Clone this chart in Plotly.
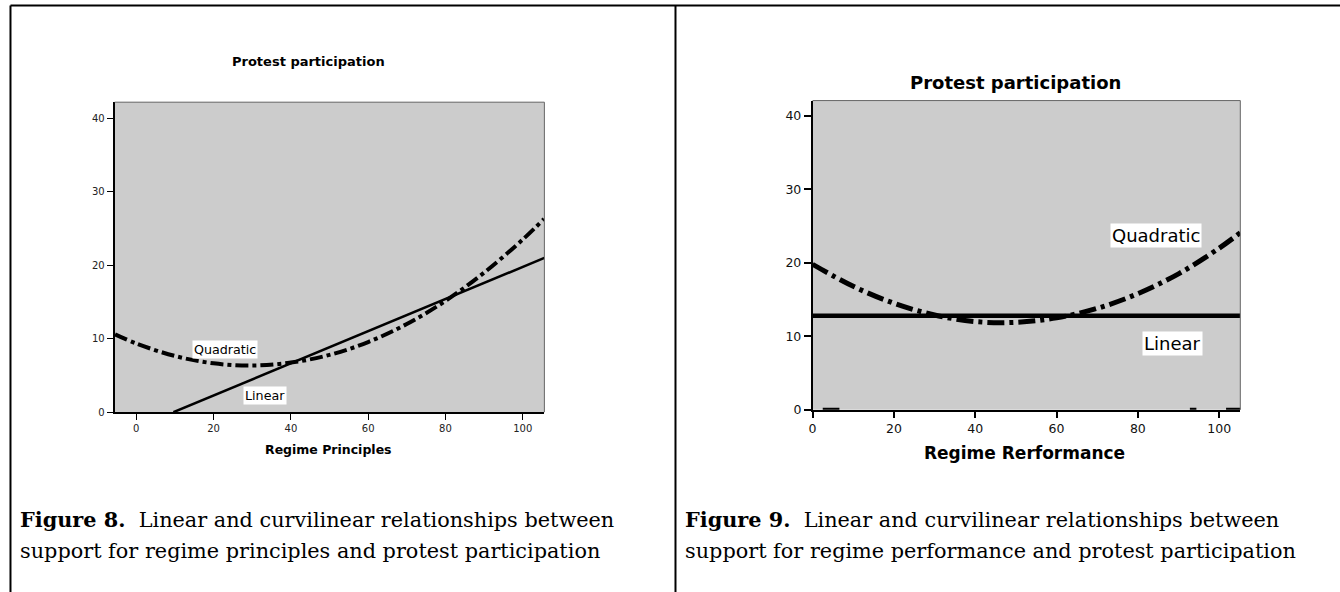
import plotly.graph_objects as go

W = 1340
H = 600   # rendered canvas proves ~600 tall; positions below are proportional to the 592-px reference
REF_H = 592

# ---------------- data ----------------
# Figure 8: Regime Principles
p_quad_x = [-5.5, 0, 10, 20, 30, 40, 50, 60, 70, 80, 90, 100, 105.5]
p_quad_y = [10.6, 9.35, 7.65, 6.65, 6.35, 6.75, 7.8, 9.55, 12.0, 15.15, 19.0, 23.5, 26.3]
p_lin_x = [9.6, 105.6]
p_lin_y = [0.0, 21.0]

# Figure 9: Regime Performance
r_quad_x = [0, 10, 20, 30, 40, 50, 60, 70, 80, 90, 100, 105.2]
r_quad_y = [19.8, 16.8, 14.5, 12.9, 12.0, 11.9, 12.5, 13.8, 15.8, 18.5, 22.0, 24.1]
r_lin_x = [0, 105.2]
r_lin_y = [12.8, 12.8]
# short dash fragments lying on the zero line
r_base_x = [2.5, 6.6, None, 92.8, 94.4, None, 101.7, 105.5]
r_base_y = [0, 0, None, 0, 0, None, 0, 0]

x_ticks = [0, 20, 40, 60, 80, 100]
y_ticks = [0, 10, 20, 30, 40]

titles = ["Protest participation", "Protest participation"]
x_titles = ["Regime Principles", "Regime Rerformance"]
cap8 = ["<b>Figure 8.</b>  Linear and curvilinear relationships between",
        "support for regime principles and protest participation"]
cap9 = ["<b>Figure 9.</b>  Linear and curvilinear relationships between",
        "support for regime performance and protest participation"]

# ---------------- helpers (reference pixel -> paper fraction) ----------------
def fx(px):
    return px / W

def fy(py):
    return 1 - py / REF_H

SANS = "DejaVu Sans, Liberation Sans, Arial"
SERIF = "DejaVu Serif, Liberation Serif, Times New Roman"
GREY = "#cccccc"

fig = go.Figure()

fig.add_trace(go.Scatter(x=p_lin_x, y=p_lin_y, mode="lines", xaxis="x", yaxis="y",
                         line=dict(color="black", width=2.5), showlegend=False, hoverinfo="skip"))
fig.add_trace(go.Scatter(x=p_quad_x, y=p_quad_y, mode="lines", xaxis="x", yaxis="y",
                         line=dict(color="black", width=4, shape="spline", dash="13px,4px,4px,4px"),
                         showlegend=False, hoverinfo="skip"))
fig.add_trace(go.Scatter(x=r_lin_x, y=r_lin_y, mode="lines", xaxis="x2", yaxis="y2",
                         line=dict(color="black", width=4.5), showlegend=False, hoverinfo="skip"))
fig.add_trace(go.Scatter(x=r_quad_x, y=r_quad_y, mode="lines", xaxis="x2", yaxis="y2",
                         line=dict(color="black", width=5, shape="spline", dash="17px,5px,4px,5px"),
                         showlegend=False, hoverinfo="skip"))
fig.add_trace(go.Scatter(x=r_base_x, y=r_base_y, mode="lines", xaxis="x2", yaxis="y2",
                         line=dict(color="black", width=4), showlegend=False, hoverinfo="skip",
                         connectgaps=False))

L = dict(x0=111, x1=542, y0=102, y1=411.5)
R = dict(x0=811, x1=1240, y0=100.4, y1=409)

axis_common = dict(showgrid=False, zeroline=False, ticks="outside", tickcolor="black",
                   showline=True, linecolor="black", mirror=False, fixedrange=True)

fig.update_layout(
    width=W, height=H, autosize=False,
    margin=dict(l=0, r=0, t=0, b=0),
    paper_bgcolor="white", plot_bgcolor=GREY,
    xaxis=dict(domain=[fx(L["x0"]), fx(L["x1"])], range=[-5.6, 105.6], anchor="y",
               tickvals=x_ticks, ticklen=6, tickwidth=1, linewidth=2,
               tickfont=dict(family=SANS, size=10, color="#222"), **axis_common),
    yaxis=dict(domain=[fy(L["y1"]), fy(L["y0"])], range=[0, 42.2], anchor="x",
               tickvals=y_ticks, ticklen=6, tickwidth=1, linewidth=2,
               tickfont=dict(family=SANS, size=10, color="#222"), **axis_common),
    xaxis2=dict(domain=[fx(R["x0"]), fx(R["x1"])], range=[0, 105.2], anchor="y2",
                tickvals=x_ticks, ticklen=7, tickwidth=1.5, linewidth=1.5,
                tickfont=dict(family=SANS, size=12.5, color="#111"), **axis_common),
    yaxis2=dict(domain=[fy(R["y1"]), fy(R["y0"])], range=[0, 42.1], anchor="x2",
                tickvals=y_ticks, ticklen=7, tickwidth=1.5, linewidth=1.5,
                tickfont=dict(family=SANS, size=12.5, color="#111"), **axis_common),
)

shapes = []
shapes.append(dict(type="line", xref="paper", yref="paper", x0=fx(6.5), x1=fx(1340), y0=fy(5.5), y1=fy(5.5),
                   line=dict(color="black", width=2)))
shapes.append(dict(type="line", xref="paper", yref="paper", x0=fx(6.5), x1=fx(6.5), y0=fy(5.5), y1=0,
                   line=dict(color="black", width=2)))
shapes.append(dict(type="line", xref="paper", yref="paper", x0=fx(673.5), x1=fx(673.5), y0=fy(5.5), y1=0,
                   line=dict(color="black", width=2)))
for B in (L, R):
    shapes.append(dict(type="line", xref="paper", yref="paper", x0=fx(B["x0"]), x1=fx(B["x1"]),
                       y0=fy(B["y0"]), y1=fy(B["y0"]), line=dict(color="#666", width=1)))
    shapes.append(dict(type="line", xref="paper", yref="paper", x0=fx(B["x1"]), x1=fx(B["x1"]),
                       y0=fy(B["y0"]), y1=fy(B["y1"]), line=dict(color="#666", width=1)))
fig.update_layout(shapes=shapes)

ann = []
ann.append(dict(text="<b>%s</b>" % titles[0], x=fx(305.7), y=fy(61.5), xref="paper", yref="paper",
                showarrow=False, xanchor="center", yanchor="middle", font=dict(family=SANS, size=13, color="black")))
ann.append(dict(text="<b>%s</b>" % titles[1], x=fx(1015), y=fy(82), xref="paper", yref="paper",
                showarrow=False, xanchor="center", yanchor="middle", font=dict(family=SANS, size=18, color="black")))
ann.append(dict(text="<b>%s</b>" % x_titles[0], x=fx(325), y=fy(449), xref="paper", yref="paper",
                showarrow=False, xanchor="center", yanchor="middle", font=dict(family=SANS, size=12.5, color="black")))
ann.append(dict(text="<b>%s</b>" % x_titles[1], x=fx(1024), y=fy(452), xref="paper", yref="paper",
                showarrow=False, xanchor="center", yanchor="middle", font=dict(family=SANS, size=17, color="black")))
ann.append(dict(text="Quadratic", x=23, y=8.5, xref="x", yref="y", showarrow=False, bgcolor="white",
                borderpad=1, font=dict(family=SANS, size=12.7, color="black")))
ann.append(dict(text="Linear", x=33.4, y=2.25, xref="x", yref="y", showarrow=False, bgcolor="white",
                borderpad=1, font=dict(family=SANS, size=12.7, color="black")))
ann.append(dict(text="Quadratic", x=84.4, y=23.7, xref="x2", yref="y2", showarrow=False, bgcolor="white",
                borderpad=1, font=dict(family=SANS, size=18, color="black")))
ann.append(dict(text="Linear", x=88.6, y=9.0, xref="x2", yref="y2", showarrow=False, bgcolor="white",
                borderpad=1, font=dict(family=SANS, size=18, color="black")))
for i, line in enumerate(cap8):
    ann.append(dict(text=line, x=fx(14), y=fy(519 + 31 * i), xref="paper", yref="paper", showarrow=False,
                    xanchor="left", yanchor="middle", font=dict(family=SERIF, size=20.8, color="black")))
for i, line in enumerate(cap9):
    ann.append(dict(text=line, x=fx(681), y=fy(519 + 31 * i), xref="paper", yref="paper", showarrow=False,
                    xanchor="left", yanchor="middle", font=dict(family=SERIF, size=20.8, color="black")))
fig.update_layout(annotations=ann)

fig.write_html("out.html", config={"displayModeBar": False})
